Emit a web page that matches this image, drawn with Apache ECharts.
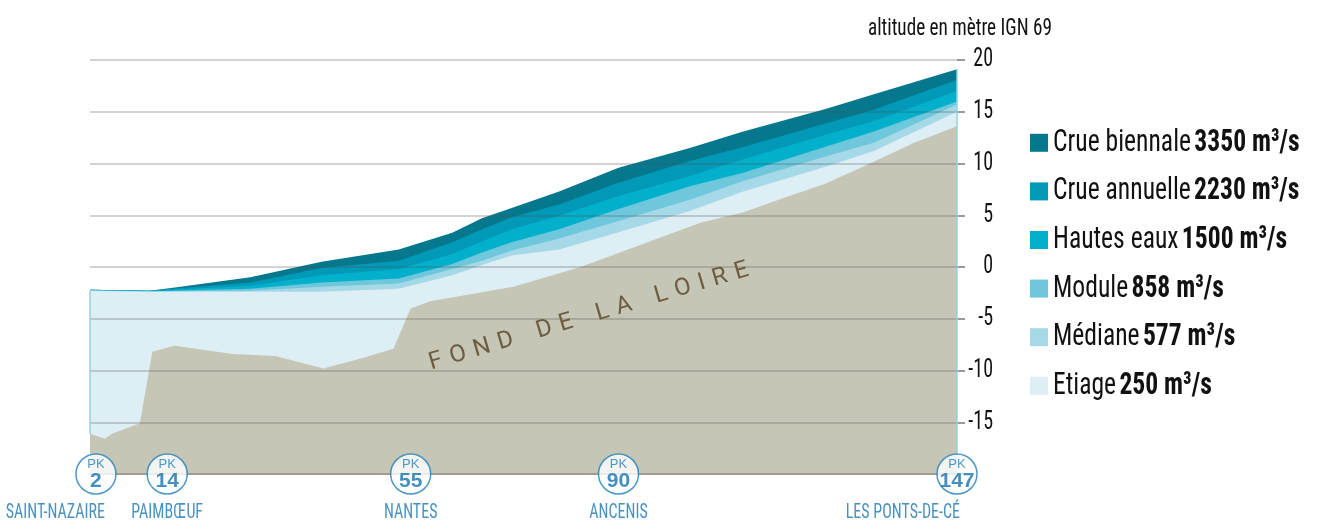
<!DOCTYPE html>
<html>
<head>
<meta charset="utf-8">
<script src="https://cdn.jsdelivr.net/npm/echarts@6/dist/echarts.min.js"></script>
<style>
  body { margin: 0; background: #fff; }
  #main { width: 1320px; height: 520px; }
</style>
</head>
<body>
<div id="main"></div>
<script>
var NARROW = "'Roboto Condensed', 'DejaVu Sans Condensed', sans-serif";

// points kilométriques communs aux lignes d'eau
var pk = [1, 11, 15, 28, 40, 53, 62, 67, 72, 80, 90, 102, 111, 125, 133, 147];
var crueBiennale = [-2.2, -2.3, -2.0, -1.0, 0.5, 1.7, 3.3, 4.7, 5.7, 7.3, 9.6, 11.5, 13.1, 15.3, 16.7, 19.1];
var crueAnnuelle = [-2.2, -2.3, -2.1, -1.5, -0.1, 0.6, 2.4, 3.65, 4.8, 6.05, 8.15, 10.25, 11.6, 13.9, 15.2, 18.1];
var hautesEaux   = [-2.2, -2.3, -2.2, -1.8, -0.8, -0.2, 1.25, 2.5, 3.65, 4.95, 6.85, 8.8, 10.4, 12.8, 14.1, 17.0];
var moduleEau    = [-2.25, -2.35, -2.3, -2.1, -1.5, -1.1, 0.3, 1.4, 2.4, 3.65, 5.6, 7.8, 9.1, 11.65, 13.1, 16.0];
var mediane      = [-2.3, -2.4, -2.35, -2.3, -1.9, -1.6, -0.2, 0.6, 1.6, 2.75, 4.45, 6.5, 8.3, 10.7, 12.0, 15.7];
var etiage       = [-2.3, -2.4, -2.4, -2.4, -2.4, -2.1, -0.8, 0.2, 1.1, 1.7, 3.35, 5.4, 7.3, 9.7, 11.2, 15.0];

// fond de la Loire
var fondPk  = [1, 3.5, 4.7, 9.4, 11.5, 15.3, 25, 32.2, 40.3, 46.9, 52.1, 55, 58.3, 63.4, 72.3, 83.6, 94.9, 103.9, 111.1, 117.9, 124.6, 132, 139.8, 147];
var fondAlt = [-16.1, -16.6, -16.1, -15.1, -8.2, -7.6, -8.4, -8.6, -9.8, -8.8, -7.9, -4.0, -3.3, -2.8, -1.9, 0, 2.4, 4.3, 5.3, 6.7, 8.0, 9.9, 12.0, 13.6];

var layerNames  = ['Crue biennale', 'Crue annuelle', 'Hautes eaux', 'Module', 'Médiane', 'Etiage'];
var layerFlows  = ['3350', '2230', '1500', '858', '577', '250'];
var layerColors = ['#05788e', '#0099b7', '#02b0cc', '#6ec7db', '#a6d9e7', '#ddeef5'];
var layerValues = [crueBiennale, crueAnnuelle, hautesEaux, moduleEau, mediane, etiage];

// repères PK et villes
var pkMarks = [2, 14, 55, 90, 147];
var cityNames = ['SAINT-NAZAIRE', 'PAIMBŒUF', 'NANTES', 'ANCENIS', 'LES PONTS-DE-CÉ'];

var yTicks = { min: -20, max: 20, step: 5 };

// Roboto Condensed reste trop large : on la resserre encore un peu au dessin
var CONDENSE = 0.8;
var proto = CanvasRenderingContext2D.prototype;
var origFillText = proto.fillText;
var origMeasureText = proto.measureText;
function isNarrow(ctx) { return ctx.font.indexOf('Roboto Condensed') >= 0; }
proto.fillText = function (text, x, y) {
    if (!isNarrow(this)) return origFillText.apply(this, arguments);
    this.save();
    this.translate(x, y);
    this.scale(CONDENSE, 1);
    origFillText.call(this, text, 0, 0);
    this.restore();
};
proto.measureText = function (text) {
    var m = origMeasureText.call(this, text);
    if (!isNarrow(this)) return m;
    return {
        width: m.width * CONDENSE,
        actualBoundingBoxAscent: m.actualBoundingBoxAscent,
        actualBoundingBoxDescent: m.actualBoundingBoxDescent,
        actualBoundingBoxLeft: m.actualBoundingBoxLeft * CONDENSE,
        actualBoundingBoxRight: m.actualBoundingBoxRight * CONDENSE,
        fontBoundingBoxAscent: m.fontBoundingBoxAscent,
        fontBoundingBoxDescent: m.fontBoundingBoxDescent
    };
};

function pairs(xs, ys) {
    return xs.map(function (x, i) { return [x, ys[i]]; });
}

var myChart = echarts.init(document.getElementById('main'));

var series = layerNames.map(function (name, i) {
    return {
        name: name,
        type: 'line',
        data: pairs(pk, layerValues[i]),
        symbol: 'none',
        silent: true,
        lineStyle: { width: 0 },
        itemStyle: { color: layerColors[i] },
        areaStyle: { color: layerColors[i], opacity: 1, origin: 'start' },
        z: 2
    };
});

series.push({
    name: 'Fond de la Loire',
    type: 'line',
    data: pairs(fondPk, fondAlt),
    symbol: 'none',
    silent: true,
    lineStyle: { width: 0 },
    itemStyle: { color: '#c6c6b7' },
    areaStyle: { color: '#c6c6b7', opacity: 1, origin: 'start' },
    z: 2,
    markLine: {
        silent: true,
        symbol: 'none',
        label: { show: false },
        lineStyle: { color: '#93d0e1', width: 1.5, type: 'solid' },
        emphasis: { disabled: true },
        data: [
            [{ coord: [pk[0], etiage[0]] }, { coord: [fondPk[0], fondAlt[0]] }],
            [{ coord: [pk[pk.length - 1], crueBiennale[pk.length - 1]] }, { coord: [pk[pk.length - 1], yTicks.min] }]
        ]
    }
});

series.push({
    name: 'PK',
    type: 'scatter',
    data: pkMarks.map(function (p) { return [p, yTicks.min]; }),
    symbol: 'circle',
    symbolSize: 40,
    clip: false,
    silent: true,
    z: 10,
    itemStyle: { color: '#fff', borderColor: '#1f80bb', borderWidth: 1.5 },
    label: {
        show: true,
        position: 'inside',
        formatter: function (p) { return '{a|PK}\n{b|' + p.value[0] + '}'; },
        rich: {
            a: { fontSize: 13, color: '#1f7fba', fontFamily: 'Liberation Sans', lineHeight: 14, align: 'center' },
            b: { fontSize: 21, fontWeight: 'bold', color: '#1673ae', fontFamily: 'Liberation Sans', lineHeight: 20, align: 'center' }
        }
    }
});

series.push({
    name: 'Villes',
    type: 'scatter',
    data: pkMarks.map(function (p, i) {
        var item = { value: [p, yTicks.min], name: cityNames[i] };
        if (i === 0) item.label = { align: 'right', offset: [9, 39] };
        if (i === pkMarks.length - 1) item.label = { align: 'right', offset: [3, 39] };
        return item;
    }),
    symbolSize: 1,
    clip: false,
    silent: true,
    z: 11,
    itemStyle: { color: 'rgba(0,0,0,0)' },
    label: {
        show: true,
        position: 'inside',
        offset: [0, 39],
        formatter: '{b}',
        fontFamily: NARROW,
        fontSize: 20,
        color: '#1a76b2'
    }
});

myChart.setOption({
    animation: false,
    title: {
        text: 'altitude en mètre IGN 69',
        left: 868,
        top: 19,
        padding: 0,
        textStyle: { fontFamily: NARROW, fontSize: 24, fontWeight: 'normal', color: '#111' }
    },
    legend: {
        data: layerNames,
        orient: 'vertical',
        left: 1030,
        top: 130,
        padding: 0,
        icon: 'rect',
        itemWidth: 18,
        itemHeight: 18,
        itemGap: 23,
        selectedMode: false,
        formatter: function (name) {
            var i = layerNames.indexOf(name);
            return '{n|' + name + '} {b|' + layerFlows[i] + ' m³/s}';
        },
        textStyle: {
            rich: {
                n: { fontFamily: NARROW, fontSize: 32, color: '#111', lineHeight: 32 },
                b: { fontFamily: NARROW, fontSize: 32, fontWeight: 'bold', color: '#111', lineHeight: 32 }
            }
        }
    },
    grid: { left: 90, right: 363, top: 60, bottom: 46 },
    xAxis: {
        type: 'value',
        min: 1,
        max: 147,
        z: 4,
        axisLine: { show: true, onZero: false, lineStyle: { color: '#a09c90', width: 2 } },
        axisTick: { show: false },
        axisLabel: { show: false },
        splitLine: { show: false }
    },
    yAxis: {
        type: 'value',
        position: 'right',
        min: yTicks.min,
        max: yTicks.max,
        interval: yTicks.step,
        z: 3,
        axisLine: { show: false },
        axisTick: { show: true, length: 8, lineStyle: { color: '#9a9a9a', width: 2 } },
        axisLabel: {
            fontFamily: NARROW,
            fontSize: 25,
            color: '#111',
            align: 'right',
            margin: 36,
            formatter: function (v) { return v === yTicks.min ? '' : String(v); }
        },
        splitLine: { lineStyle: { color: 'rgba(80,80,80,0.25)', width: 2 } }
    },
    series: series
});

// étiquette du fond, placée en coordonnées de données
var fondLabelAt = myChart.convertToPixel({ gridIndex: 0 }, [85, -4.8]);
myChart.setOption({
    graphic: [{
        type: 'text',
        x: fondLabelAt[0],
        y: fondLabelAt[1],
        rotation: 16.5 * Math.PI / 180,
        z: 5,
        silent: true,
        style: {
            text: 'F\u2004O\u2004N\u2004D\u2004\u2004\u2004D\u2004E\u2004\u2004\u2004L\u2004A\u2004\u2004\u2004L\u2004O\u2004I\u2004R\u2004E',
            fontFamily: 'Roboto, sans-serif',
            fontSize: 24,
            fill: '#6e5c40',
            align: 'center',
            verticalAlign: 'middle'
        }
    }]
});
</script>
</body>
</html>
